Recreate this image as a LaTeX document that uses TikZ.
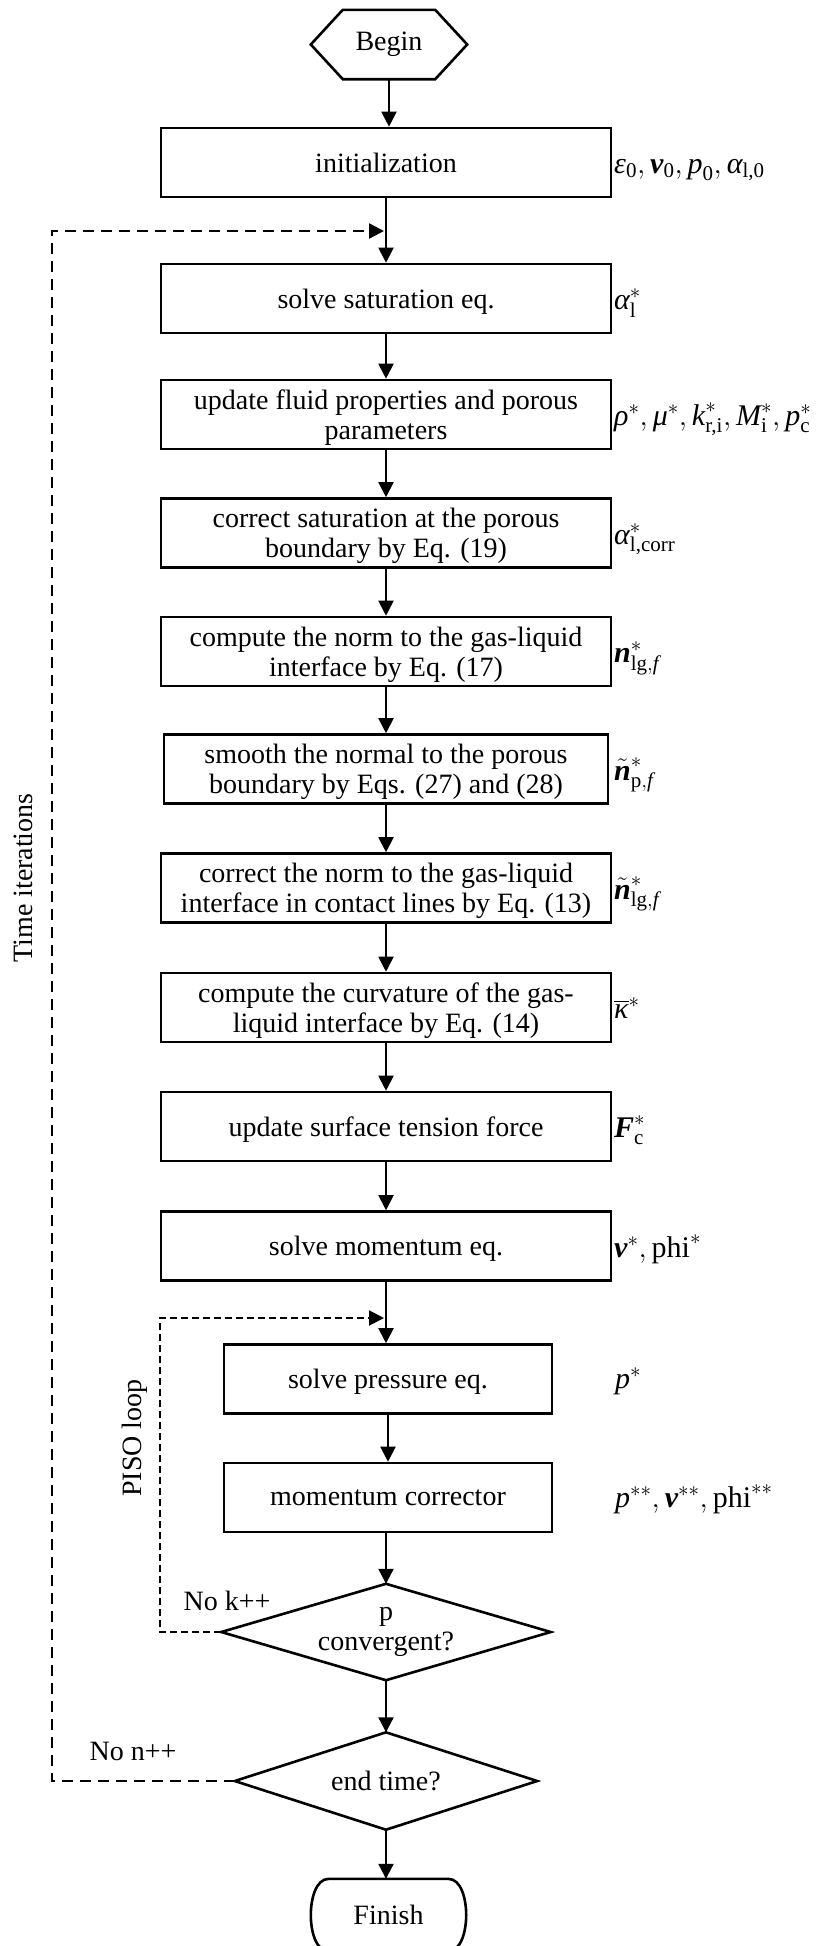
\RequirePackage{fix-cm}
\documentclass[tikz,border=0pt]{standalone}
\usepackage{amsmath}
\usepackage{fontspec}
\setmainfont{Liberation Serif}
\usetikzlibrary{arrows.meta}

% symbols set in the text font inside formulas
\newcommand{\symI}[1]{\text{\upshape\itshape #1}}
\newcommand{\symB}[1]{\text{\bfseries\itshape #1}}
\newcommand{\symR}[1]{\text{\upshape #1}}

\begin{document}
\begin{tikzpicture}[x=1pt,y=-1pt,
  font=\fontsize{28}{30}\selectfont,
  every node/.style={inner sep=0pt},
  box/.style={draw, line width=2.6pt, minimum width=450pt, minimum height=69pt, align=center, text depth=0pt},
  pbox/.style={box, minimum width=328pt},
  flow/.style={line width=2pt, -{Triangle[length=15pt,width=15pt]}},
  timeloop/.style={line width=2.4pt, dash pattern=on 11pt off 7pt, -{Triangle[length=15pt,width=15pt]}},
  pisoloop/.style={line width=2pt, dash pattern=on 7pt off 4pt, -{Triangle[length=15pt,width=15pt]}},
  lab/.style={anchor=base west, font=\fontsize{30}{32}\selectfont},
  outline/.style={line width=2.6pt, line join=miter},
]
\useasboundingbox (0,0) rectangle (840,1946);

% terminals
\node[minimum width=156pt, minimum height=69pt] (begin) at (389,44.5) {Begin};
\draw[outline] (begin.west) -- ([xshift=32pt]begin.north west) -- ([xshift=-32pt]begin.north east)
  -- (begin.east) -- ([xshift=-32pt]begin.south east) -- ([xshift=32pt]begin.south west) -- cycle;

\node[minimum width=155pt, minimum height=72pt] (finish) at (388.5,1915) {Finish};
\draw[outline] ([xshift=18pt]finish.north west) -- ([xshift=-18pt]finish.north east)
  .. controls ([xshift=-5pt]finish.north east) and ([yshift=16pt]finish.east) .. (finish.east)
  .. controls ([yshift=-16pt]finish.east) and ([xshift=-5pt]finish.south east) .. ([xshift=-18pt]finish.south east)
  -- ([xshift=18pt]finish.south west)
  .. controls ([xshift=5pt]finish.south west) and ([yshift=-16pt]finish.west) .. (finish.west)
  .. controls ([yshift=16pt]finish.west) and ([xshift=5pt]finish.north west) .. cycle;

% process steps
\node[box] (init) at (386,162.5) {initialization};
\node[box] (sat) at (386,298.5) {solve saturation eq.};
\node[box] (fluid) at (386,414.5) {update fluid properties and porous\\parameters};
\node[box] (corrsat) at (386,533) {correct saturation at the porous\\boundary by Eq. (19)};
\node[box] (norm) at (386,651.5) {compute the norm to the gas-liquid\\interface by Eq. (17)};
\node[box, minimum width=444pt] (smooth) at (386,769) {smooth the normal to the porous\\boundary by Eqs. (27) and (28)};
\node[box] (contact) at (386,888) {correct the norm to the gas-liquid\\interface in contact lines by Eq. (13)};
\node[box] (curv) at (386,1007.5) {compute the curvature of the gas-\\liquid interface by Eq. (14)};
\node[box] (surf) at (386,1126.5) {update surface tension force};
\node[box] (mom) at (386,1246) {solve momentum eq.};
\node[pbox] (pres) at (388,1379) {solve pressure eq.};
\node[pbox] (corr) at (388,1497.5) {momentum corrector};

% decisions
\node[minimum width=329pt, minimum height=96pt, align=center] (pconv) at (386,1632) {p\\convergent?};
\draw[outline] (pconv.west) -- (pconv.north) -- (pconv.east) -- (pconv.south) -- cycle;
\node[minimum width=302pt, minimum height=97pt] (endt) at (386,1781) {end time?};
\draw[outline] (endt.west) -- (endt.north) -- (endt.east) -- (endt.south) -- cycle;

% main flow
\draw[flow] (begin.south) -- (begin.south |- init.north);
\draw[flow] (init.south) -- (sat.north);
\draw[flow] (sat.south) -- (fluid.north);
\draw[flow] (fluid.south) -- (corrsat.north);
\draw[flow] (corrsat.south) -- (norm.north);
\draw[flow] (norm.south) -- (smooth.north);
\draw[flow] (smooth.south) -- (contact.north);
\draw[flow] (contact.south) -- (curv.north);
\draw[flow] (curv.south) -- (surf.north);
\draw[flow] (surf.south) -- (mom.north);
\draw[flow] (mom.south) -- (mom.south |- pres.north);
\draw[flow] (pres.south) -- (corr.north);
\draw[flow] (corr.south -| pconv.north) -- (pconv.north);
\draw[flow] (pconv.south) -- (endt.north);
\draw[flow] (endt.south) -- (finish.north -| endt.south);

% loops
\coordinate (tjoin) at (384,231);
\coordinate (tcorner) at (52,231);
\draw[timeloop] (endt.west) -- (endt.west -| tcorner) -- (tcorner) -- (tjoin);
\coordinate (pjoin) at (384,1318);
\coordinate (pcorner) at (160,1318);
\draw[pisoloop] (pconv.west) -- (pconv.west -| pcorner) -- (pcorner) -- (pjoin);

\node[rotate=90] (tlabel) at (23,878) {Time iterations};
\node[rotate=90] (plabel) at (135,1438) {PISO loop};
\node (nok) at (227,1601) {No k++};
\node (non) at (133,1751) {No n++};

% quantities produced by each step
\node[lab] (qinit) at (614,173) {$\symI{ε}_{\symR{0}},\symB{v}_{\symR{0}},\symI{p}_{\symR{0}},\symI{α}_{\symR{l,0}}$};
\node[lab] (qsat) at (614,309.5) {$\symI{α}_{\symR{l}}^{*}$};
\node[lab] (qfluid) at (614,425.5) {$\symI{ρ}^{*},\symI{μ}^{*},\symI{k}_{\symR{r,i}}^{*},\symI{M}_{\symR{i}}^{*},\symI{p}_{\symR{c}}^{*}$};
\node[lab] (qcorrsat) at (614,544) {$\symI{α}_{\symR{l,corr}}^{*}$};
\node[lab] (qnorm) at (614,662.5) {$\symB{n}_{\symR{lg},\symI{f}}^{*}$};
\node[lab] (qsmooth) at (614,780) {$\tilde{\symB{n}}_{\symR{p},\symI{f}}^{*}$};
\node[lab] (qcontact) at (614,899) {$\tilde{\symB{n}}_{\symR{lg},\symI{f}}^{*}$};
\node[lab] (qcurv) at (614,1018.5) {$\overline{\symI{κ}}^{*}$};
\node[lab] (qsurf) at (614,1137.5) {$\symB{F}_{\symR{c}}^{*}$};
\node[lab] (qmom) at (614,1257) {$\symB{v}^{*},\symR{phi}^{*}$};
\node[lab] (qpres) at (615,1388) {$\symI{p}^{*}$};
\node[lab] (qcorr) at (615,1507) {$\symI{p}^{**},\symB{v}^{**},\symR{phi}^{**}$};
\end{tikzpicture}
\end{document}
